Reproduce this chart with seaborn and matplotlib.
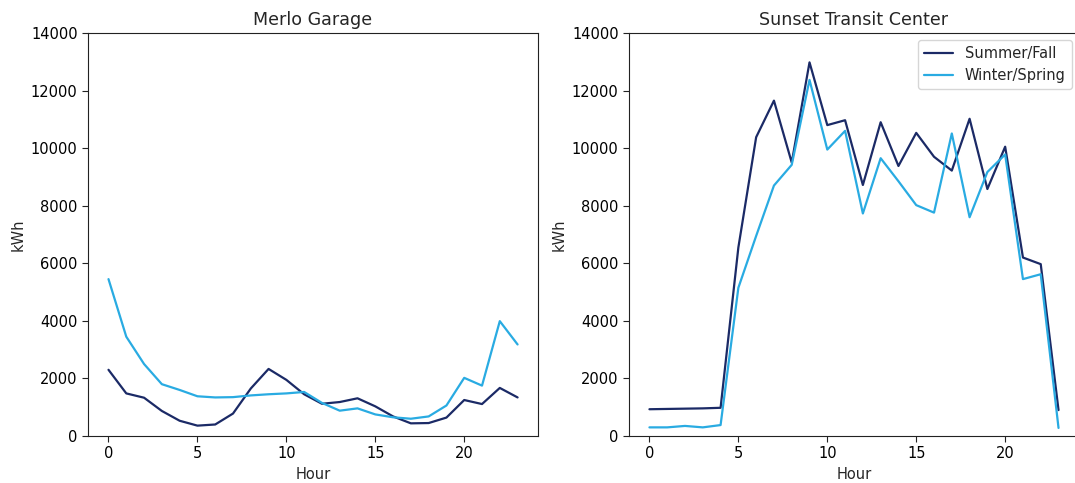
import numpy as np
import pandas as pd
import seaborn as sns
import matplotlib.pyplot as plt

hours = list(range(24))
seasons = ["Summer/Fall", "Winter/Spring"]

merlo_summer = [2300, 1480, 1330, 870, 530, 360, 400, 780, 1650, 2330, 1950, 1450,
                1120, 1180, 1310, 1030, 680, 440, 450, 640, 1250, 1110, 1670, 1340]
merlo_winter = [5450, 3450, 2500, 1800, 1600, 1380, 1340, 1350, 1410, 1450, 1480, 1530,
                1150, 880, 960, 750, 650, 600, 680, 1060, 2020, 1750, 3990, 3180]

sunset_summer = [930, 940, 950, 960, 980, 6550, 10380, 11650, 9500, 12980, 10800, 10970,
                 8720, 10900, 9380, 10530, 9700, 9220, 11020, 8580, 10050, 6200, 5970, 900]
sunset_winter = [300, 300, 350, 300, 380, 5150, 6950, 8700, 9420, 12370, 9950, 10600,
                 7730, 9650, 8850, 8020, 7760, 10510, 7600, 9170, 9780, 5450, 5620, 280]

palette = {"Summer/Fall": "#1b2a66", "Winter/Spring": "#29abe2"}


def make_df(summer, winter):
    return pd.DataFrame({
        "Hour": hours * 2,
        "kWh": summer + winter,
        "Season": [seasons[0]] * 24 + [seasons[1]] * 24,
    })


sns.set_style("white")
plt.rcParams["font.family"] = ["DejaVu Sans"]
plt.rcParams["font.size"] = 10.5

fig = plt.figure(figsize=(10.75, 4.83), dpi=100)
ax1 = fig.add_axes([0.0819, 0.0973, 0.4186, 0.8344])
ax2 = fig.add_axes([0.5851, 0.0973, 0.4186, 0.8344])

for ax, (title, s, w), legend in zip(
        [ax1, ax2],
        [("Merlo Garage", merlo_summer, merlo_winter),
         ("Sunset Transit Center", sunset_summer, sunset_winter)],
        [False, True]):
    sns.lineplot(data=make_df(s, w), x="Hour", y="kWh", hue="Season",
                 palette=palette, linewidth=1.6, ax=ax, legend=legend)
    ax.set_ylim(0, 14000)
    ax.set_xticks([0, 5, 10, 15, 20])
    ax.set_title(title, fontsize=12.6)
    ax.tick_params(labelsize=10.5, length=4, left=True, bottom=True,
                   colors="#222222", labelcolor="black")
    for sp in ax.spines.values():
        sp.set_color("#222222")

leg = ax2.get_legend()
leg.set_title(None)
for t in leg.get_texts():
    t.set_fontsize(10.5)

plt.savefig("out.png")
